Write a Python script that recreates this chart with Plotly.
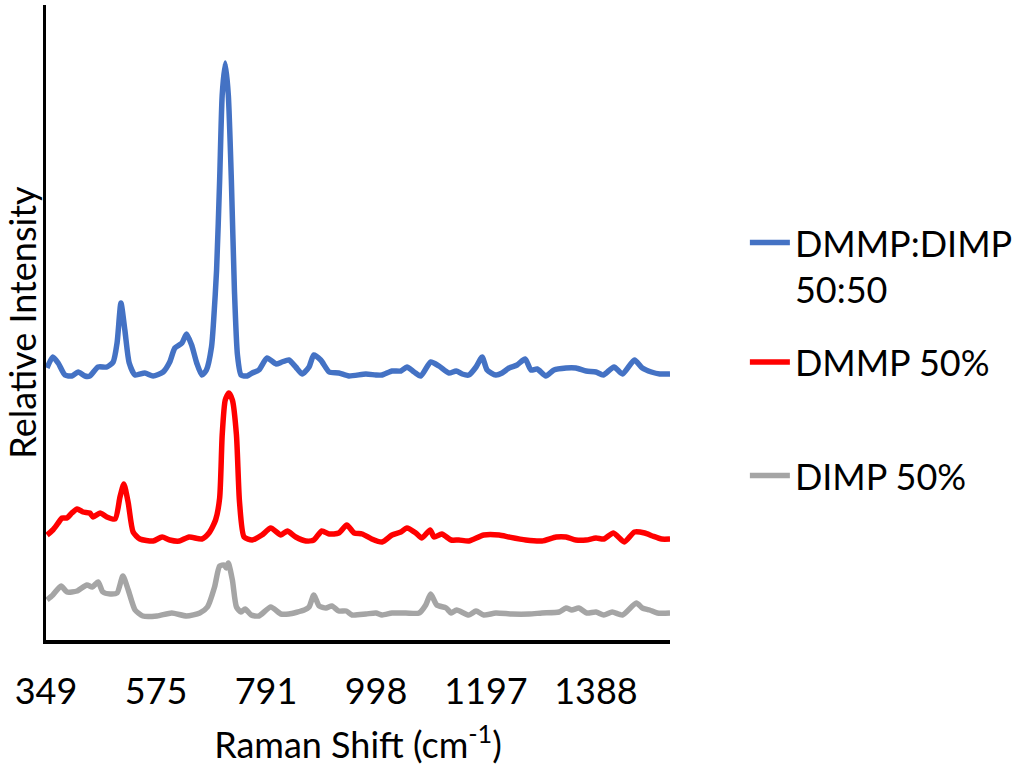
import numpy as np
import plotly.graph_objects as go

# Category-axis tick labels (Raman shift, cm-1)
tick_labels = ["349", "575", "791", "998", "1197", "1388"]
tick_shift = [349, 575, 791, 998, 1197, 1388]
end_shift = 1511

# DMMP:DIMP 50:50
blue_shift = [351, 363, 374, 388, 402, 415, 429, 439, 456, 474, 487, 495, 503, 511, 520, 532, 552, 569,
              589, 602, 612, 626, 635, 645, 655, 665, 674, 684, 688, 694, 700, 705, 711, 717, 723, 729,
              735, 742, 754, 764, 777, 793, 810, 821, 834, 847, 859, 872, 881, 894, 910, 928, 947, 979,
              998, 1009, 1027, 1043, 1054, 1067, 1079, 1097, 1112, 1130, 1143, 1154, 1166, 1179, 1190,
              1199, 1214, 1225, 1237, 1251, 1265, 1275, 1286, 1301, 1315, 1336, 1353, 1371, 1388, 1400,
              1418, 1432, 1452, 1465, 1480, 1494, 1511]
blue_int = [272, 283, 277, 265, 264, 268, 264, 264, 273, 273, 278, 297, 337, 310, 277, 265, 267, 264,
            268, 278, 292, 297, 306, 295, 277, 265, 270, 293, 318, 370, 460, 545, 577, 545, 460, 350,
            285, 265, 264, 267, 270, 282, 276, 278, 280, 273, 266, 273, 285, 280, 268, 267, 264, 266,
            265, 265, 269, 269, 273, 268, 264, 278, 274, 267, 269, 266, 265, 273, 283,
            270, 265, 267, 272, 275, 281, 270, 271, 264, 270, 272, 272, 269, 268, 265,
            273, 266, 280, 272, 268, 266, 266]

# DMMP 50%
red_shift = [351, 363, 374, 382, 392, 402, 413, 425, 439, 446, 460, 474, 491, 501, 509, 518, 528, 542,
             569, 587, 602, 621, 640, 665, 679, 692, 700, 705, 711, 718, 725, 733, 739, 748, 764, 783,
             800, 819, 831, 847, 866, 881, 896, 910, 928, 943, 957, 972, 990, 1009, 1027, 1043, 1054,
             1070, 1081, 1096, 1103, 1117, 1134, 1148, 1166, 1193, 1220, 1237, 1266, 1294, 1319, 1336,
             1353, 1371, 1388, 1401, 1417, 1435, 1452, 1469, 1482, 1497, 1511]
red_int = [105, 110, 117, 122, 122, 127, 131, 128, 127, 123, 127, 123, 121, 143, 156, 137, 108, 101,
           99, 103, 100, 99, 103, 101, 107, 120, 142, 205, 240, 247, 240, 205, 138, 103, 100, 105,
           112, 105, 109, 103, 99, 100, 109, 106, 107, 115, 107, 106, 101, 98, 105, 108, 112,
           107, 102, 110, 103, 106, 100, 100, 99, 105, 105, 103, 100, 99, 103, 103,
           100, 100, 102, 101, 107, 98, 108, 107, 104, 101, 101]

# DIMP 50%
gray_shift = [351, 363, 380, 392, 413, 433, 444, 456, 466, 481, 495, 507, 518, 532, 548, 577, 606, 635,
              661, 676, 690, 700, 709, 713, 717, 725, 733, 742, 750, 762, 777, 800, 819, 834, 863, 872,
              881, 891, 904, 915, 928, 942, 953, 979, 998, 1009, 1027, 1052, 1076, 1088, 1097, 1108,
              1125, 1134, 1144, 1166, 1179, 1193, 1214, 1242, 1272, 1294, 1324, 1336, 1346, 1358, 1372,
              1388, 1401, 1415, 1432, 1455, 1465, 1477, 1490, 1511]
gray_int = [40, 45, 54, 48, 49, 55, 53, 58, 48, 46, 47, 64, 50, 30, 24, 24, 27, 24,
            27, 33, 53, 74, 75, 72, 77, 60, 33, 28, 31, 25, 24, 33, 26, 26, 30, 33,
            45, 34, 32, 34, 29, 29, 25, 26, 27, 25, 27, 27, 27, 35, 46, 35,
            32, 27, 30, 25, 29, 25, 27, 26, 26, 27, 28, 32, 30, 32, 27,
            28, 25, 28, 25, 37, 32, 30, 27, 27]

series = [
    ("DMMP:DIMP<br>50:50", blue_shift, blue_int, "#4472C4", "legend"),
    ("DMMP 50%", red_shift, red_int, "#FF0000", "legend2"),
    ("DIMP 50%", gray_shift, gray_int, "#A5A5A5", "legend3"),
]

# category axis: ticks evenly spaced; map shift onto category position
axis_shift = tick_shift + [end_shift]
axis_pos = list(range(len(tick_shift))) + [len(tick_shift) - 1 + 0.673]

FONT = "Lato"
FS = 36
fig = go.Figure()
for name, sx, sy, color, lg in series:
    xpos = np.interp(sx, axis_shift, axis_pos)
    fig.add_trace(go.Scatter(
        x=xpos, y=sy, mode="lines", name=name, legend=lg, showlegend=True,
        line=dict(color=color, width=5.5, shape="spline", smoothing=0.6),
    ))

leg_common = dict(x=1.12, xanchor="left", yanchor="top", valign="top",
                  font=dict(size=FS), itemwidth=40, bgcolor="rgba(0,0,0,0)")

fig.update_layout(
    width=1019, height=767,
    showlegend=True,
    margin=dict(l=46, r=349, t=5, b=127, autoexpand=False),
    paper_bgcolor="white", plot_bgcolor="white",
    font=dict(family=FONT, size=FS, color="black"),
    xaxis=dict(
        range=[0, axis_pos[-1]], tickvals=list(range(len(tick_labels))), ticktext=tick_labels,
        showgrid=False, zeroline=False, showline=True, linecolor="black", linewidth=4,
        ticks="outside", ticklen=17, tickcolor="rgba(0,0,0,0)", automargin=False,
        tickfont=dict(size=FS),
        title=dict(text="Raman Shift (cm<sup>-1</sup>)", font=dict(size=FS), standoff=23),
    ),
    yaxis=dict(
        range=[0, 635], showticklabels=False, showgrid=False, zeroline=False,
        showline=True, linecolor="black", linewidth=3, ticks="", automargin=False,
        title=dict(text="Relative Intensity", font=dict(size=FS), standoff=13),
    ),
    legend=dict(y=0.673, **leg_common),
    legend2=dict(y=0.485, **leg_common),
    legend3=dict(y=0.306, **leg_common),
)

fig.write_html("out.html", config={"displayModeBar": False},
               post_script="document.body.style.margin='0';")
